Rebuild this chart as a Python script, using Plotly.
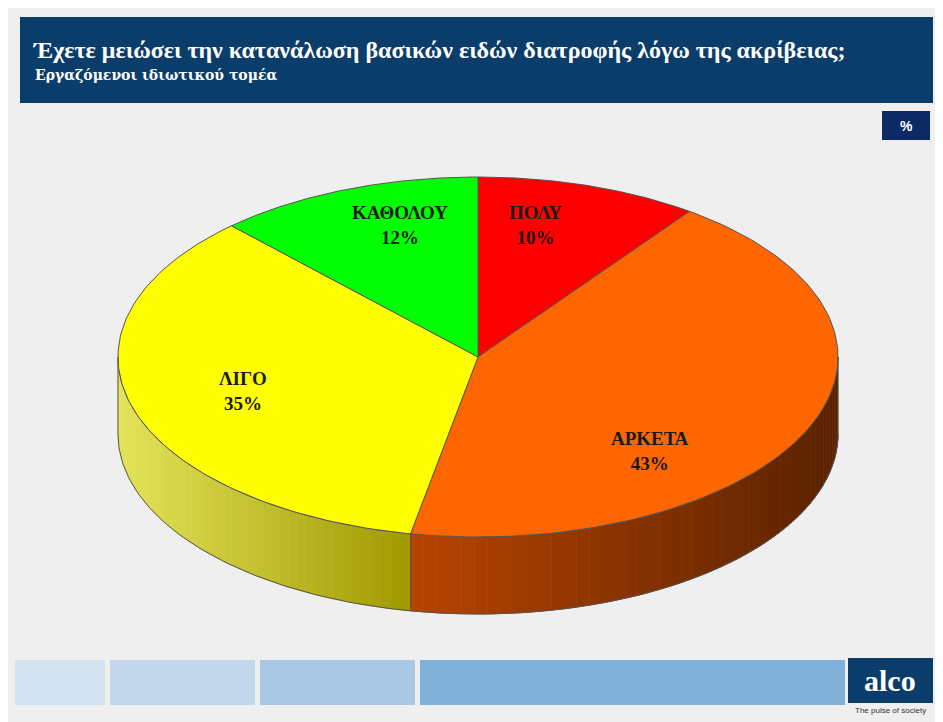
import numpy as np
import plotly.graph_objects as go

labels = ["ΠΟΛΥ", "ΑΡΚΕΤΑ", "ΛΙΓΟ", "ΚΑΘΟΛΟΥ"]
values = [10, 43, 35, 12]
colors = ["#ff0000", "#ff6600", "#ffff00", "#00ff00"]
side_left = ["#a00000", "#b84400", "#e4e45a", "#00a000"]
side_right = ["#600000", "#5a2200", "#a09a00", "#006000"]
label_pos = [(535, 225), (650, 451), (243, 391), (400, 225)]

cx, cy, rx, ry, depth = 478, 357, 360, 180, 77
off = 8  # marge du body html


def pt(theta, dy=0):
    t = np.radians(theta)
    return cx + rx * np.sin(t), cy - ry * np.cos(t) + dy


def mix(c1, c2, f):
    a = [int(c1[i:i + 2], 16) for i in (1, 3, 5)]
    b = [int(c2[i:i + 2], 16) for i in (1, 3, 5)]
    return "rgb(%d,%d,%d)" % tuple(a[k] + (b[k] - a[k]) * f for k in range(3))


fig = go.Figure()

# tranches (côtés)
bounds = np.concatenate([[0], np.cumsum(values) / sum(values) * 360])
for i in range(len(values)):
    a0, a1 = max(bounds[i], 90), min(bounds[i + 1], 270)
    if a1 <= a0:
        continue
    xa, xb_ = pt(a0)[0], pt(a1)[0]
    xmin, xmax = min(xa, xb_), max(xa, xb_)
    if i == 2:
        xmin = cx - rx
    steps = np.linspace(a0, a1, 50)
    for s0, s1 in zip(steps[:-1], steps[1:]):
        th = np.linspace(s0, s1, 4)
        xt, yt = pt(th)
        xb, yb = pt(th[::-1], depth)
        xm = pt((s0 + s1) / 2)[0]
        f = min(max((xm - xmin) / (xmax - xmin), 0), 1)
        c = mix(side_left[i], side_right[i], f)
        fig.add_trace(go.Scatter(x=np.r_[xt, xb], y=np.r_[yt, yb], fill="toself",
                                 fillcolor=c, mode="lines", line=dict(color=c, width=1),
                                 hoverinfo="skip", showlegend=False))
    th = np.linspace(a0, a1, 80)
    xt, yt = pt(th)
    xb, yb = pt(th[::-1], depth)
    fig.add_trace(go.Scatter(x=np.r_[xt, xb, xt[0]], y=np.r_[yt, yb, yt[0]], mode="lines",
                             line=dict(color="#555", width=1), hoverinfo="skip", showlegend=False))

# dessus
for i in range(len(values)):
    th = np.linspace(bounds[i], bounds[i + 1], 120)
    x, y = pt(th)
    fig.add_trace(go.Scatter(x=np.r_[cx, x, cx], y=np.r_[cy, y, cy], fill="toself",
                             fillcolor=colors[i], mode="lines", line=dict(color="#555", width=1),
                             name=labels[i], hoverinfo="name", showlegend=False))

font = dict(family="Liberation Serif", size=19, color="#1a1a1a")
ann = []
for i, (lx, ly) in enumerate(label_pos):
    ann.append(dict(x=lx, y=ly, text="<b>%s<br>%d%%</b>" % (labels[i], values[i]),
                    showarrow=False, font=font, xref="x", yref="y"))

ann += [
    dict(x=31, y=50, xanchor="left", text="<b>Έχετε μειώσει την κατανάλωση βασικών ειδών διατροφής λόγω της ακρίβειας;</b>",
         showarrow=False, font=dict(family="Liberation Serif", size=24, color="white")),
    dict(x=33, y=75, xanchor="left", text="<b>Εργαζόμενοι ιδιωτικού τομέα</b>",
         showarrow=False, font=dict(family="DejaVu Serif", size=14, color="white")),
    dict(x=906, y=126, text="<b>%</b>", showarrow=False,
         font=dict(family="Liberation Sans", size=14, color="white")),
    dict(x=890, y=680, text="<b>alco</b>", showarrow=False,
         font=dict(family="Liberation Serif", size=30, color="white")),
    dict(x=890, y=710, text="The pulse of society", showarrow=False,
         font=dict(family="Liberation Sans", size=8, color="#333")),
]

shapes = [
    dict(type="rect", x0=20, x1=933, y0=17, y1=103, fillcolor="#0b3d6b", line=dict(width=0), layer="below"),
    dict(type="rect", x0=882, x1=930, y0=111, y1=140, fillcolor="#0b2a66", line=dict(width=0), layer="below"),
    dict(type="rect", x0=15, x1=105, y0=660, y1=705, fillcolor="#d3e3f0", line=dict(width=0), layer="below"),
    dict(type="rect", x0=110, x1=255, y0=660, y1=705, fillcolor="#c3d7ec", line=dict(width=0), layer="below"),
    dict(type="rect", x0=260, x1=415, y0=660, y1=705, fillcolor="#a8c8e4", line=dict(width=0), layer="below"),
    dict(type="rect", x0=420, x1=845, y0=660, y1=705, fillcolor="#7fb0d8", line=dict(width=0), layer="below"),
    dict(type="rect", x0=848, x1=933, y0=658, y1=703, fillcolor="#0b3d6b", line=dict(width=0), layer="below"),
]

fig.update_layout(
    width=943, height=722, margin=dict(l=0, r=0, t=0, b=0),
    paper_bgcolor="#efefef", plot_bgcolor="#efefef",
    xaxis=dict(range=[off, 943 + off], visible=False, fixedrange=True),
    yaxis=dict(range=[722 + off, off], visible=False, fixedrange=True),
    annotations=ann, shapes=shapes,
)

fig.write_html("out.html")
